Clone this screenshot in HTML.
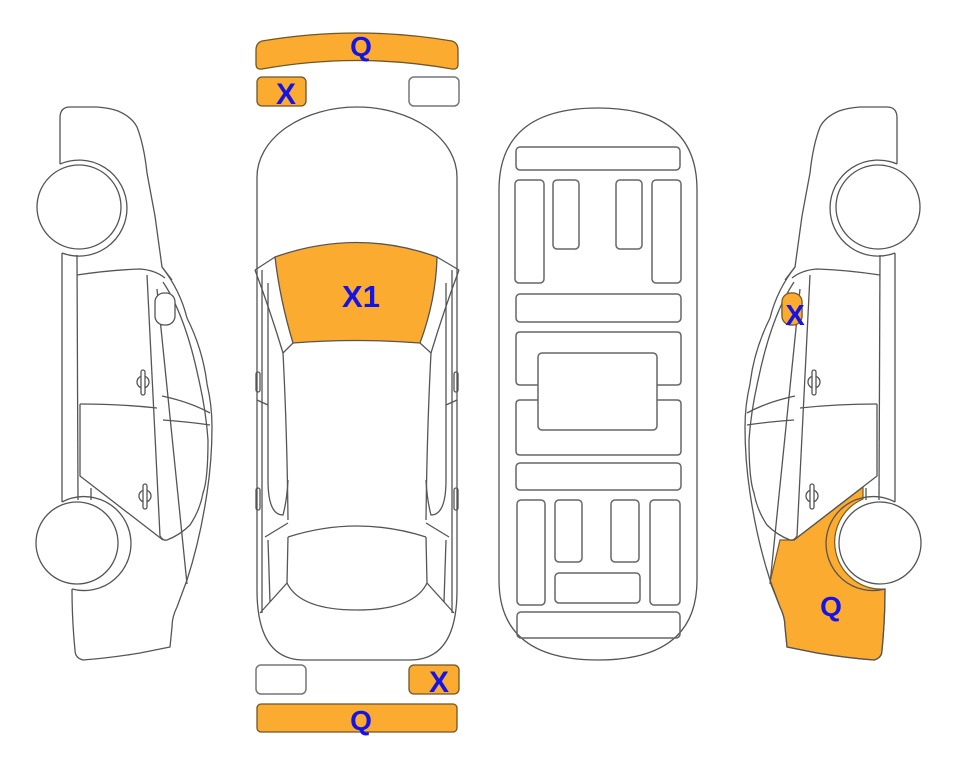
<!DOCTYPE html>
<html><head><meta charset="utf-8"><style>
html,body{margin:0;padding:0;background:#fff;}
svg{display:block;}
text{font-family:"Liberation Sans",Arial,sans-serif;font-weight:bold;fill:#1414e6;text-anchor:middle;}
</style></head><body>
<svg width="963" height="768" viewBox="0 0 963 768" xmlns="http://www.w3.org/2000/svg">
<defs>
<g id="car" fill="none" stroke="#555" stroke-width="1.3" stroke-linejoin="round">
  <path d="M60,164 L60,118 Q60,107 70,107 L97,107 Q110,108 118,111 Q132,117 137,127 Q144,145 147,173 L155,216 L162,267 Q180,290 187,318 Q203,350 207,384 Q212,405 212,427 Q212,460 207,493 Q200,540 187,580 L177,607 Q172,617 172,627 L170,647 Q155,650 140,653 Q110,658 83,660 Q75,658 75,650 Q72,620 72,589"/>
  <path d="M60,164 A48,48 0 1 1 62,253"/>
  <path d="M62,502 A47,47 0 1 1 72,589"/>
  <circle cx="79" cy="207" r="42" fill="#fff"/>
  <circle cx="77" cy="543" r="41" fill="#fff"/>
  <line x1="62" y1="253" x2="62" y2="502"/>
  <line x1="77" y1="255" x2="78" y2="500"/>
  <line x1="91" y1="488" x2="91" y2="500"/>
  <path d="M77,275 Q110,270 140,269 Q155,270 165,278"/>
  <line x1="147" y1="275" x2="160" y2="536"/>
  <line x1="157" y1="289" x2="187" y2="584"/>
  <path d="M162,267 L172,280"/>
  <path d="M163,282 Q185,315 198,376 Q206,410 208,440 Q208,480 203,493 Q200,510 190,525 Q180,535 167,540 Q163,541 160,536"/>
  <rect x="155" y="293" width="20" height="32" rx="9" fill="#fff"/>
  <path d="M80,404 Q120,404 157,408"/>
  <path d="M162,396 Q190,402 210,413"/>
  <path d="M163,420 Q190,422 210,425"/>
  <path d="M80,404 L80,476 L163,540"/>
  <circle cx="143" cy="382" r="6"/>
  <rect x="141" y="370" width="4" height="25" rx="2" fill="#fff"/>
  <circle cx="145" cy="496" r="6"/>
  <rect x="143" y="484" width="4" height="25" rx="2" fill="#fff"/>
</g>
</defs>

<use href="#car"/>

<g transform="translate(957,0) scale(-1,1)">
  <path d="M94,487 L163,540 L177,540 L187,582 L177,607 Q172,617 172,627 L170,647 Q155,650 140,653 Q110,658 83,660 Q75,658 75,650 Q72,620 72,589 A47,47 0 0 0 94,499 Z" fill="#fbab2f" stroke="#7a5a20" stroke-width="1.2"/>
</g>
<g transform="translate(957,0) scale(-1,1)">
  <use href="#car"/>
  <rect x="155" y="293" width="20" height="32" rx="9" fill="#fbab2f" stroke="#7a5a20" stroke-width="1.2"/>
</g>
<text x="795" y="325" font-size="29">X</text>
<text x="831" y="616" font-size="28">Q</text>

<g fill="none" stroke="#555" stroke-width="1.3">
  <path d="M262,41 Q357,25 452,41 Q458,43 458,50 L458,64 Q458,70 452,69 Q357,52 262,69 Q256,70 256,64 L256,50 Q256,43 262,41 Z" fill="#fbab2f" stroke="#6e5628"/>
  <rect x="257" y="77" width="49" height="29" rx="5" fill="#fbab2f" stroke="#6e5628"/>
  <rect x="409" y="77" width="50" height="29" rx="5" fill="#fff" stroke="#777" stroke-width="1.5"/>
  <rect x="256" y="665" width="50" height="29" rx="5" fill="#fff" stroke="#777" stroke-width="1.5"/>
  <rect x="409" y="665" width="50" height="29" rx="5" fill="#fbab2f" stroke="#6e5628"/>
  <rect x="257" y="704" width="200" height="28" rx="4" fill="#fbab2f" stroke="#6e5628"/>

  <path d="M257,177 A100,70 0 0 1 457,177 L457,590 Q457,660 410,660 L304,660 Q257,660 257,590 Z"/>
  <path d="M275,257 Q357,228 437,257 Q436,300 420,343 Q357,338 293,343 Q280,300 275,257 Z" fill="#fbab2f" stroke="#555"/>
  <path d="M255,270 L275,257 M459,270 L437,257"/>
  <path d="M255,270 Q270,310 283,353 L293,343 M459,270 Q444,310 431,353 L420,343"/>
  <path d="M262,270 L262,613"/>
  <path d="M268,283 L268,480 Q268,515 283,515 Q287,500 288,480"/>
  <path d="M283,353 Q287,430 288,520"/>
  <path d="M257,400 L268,405"/>
  <path d="M265,537 L288,523"/>
  <path d="M288,537 L287,583 L260,613"/>
  <path d="M270,602 L268,540"/>
  <path d="M452,270 L452,613"/>
  <path d="M446,283 L446,480 Q446,515 431,515 Q427,500 426,480"/>
  <path d="M431,353 Q427,430 426,520"/>
  <path d="M457,400 L446,405"/>
  <path d="M449,537 L426,523"/>
  <path d="M426,537 L427,583 L454,613"/>
  <path d="M444,602 L446,540"/>
  <path d="M288,537 Q357,515 426,537"/>
  <path d="M287,583 Q300,610 357,610 Q414,610 427,583"/>
  <rect x="256" y="372" width="4" height="20" rx="2"/>
  <rect x="454" y="372" width="4" height="20" rx="2"/>
  <rect x="256" y="488" width="4" height="22" rx="2"/>
  <rect x="454" y="488" width="4" height="22" rx="2"/>
</g>
<text x="361" y="56" font-size="28">Q</text>
<text x="286" y="104" font-size="30">X</text>
<text x="361" y="307" font-size="31">X1</text>
<text x="439" y="692" font-size="30">X</text>
<text x="361" y="730" font-size="28">Q</text>

<g fill="none" stroke="#666" stroke-width="1.5">
  <path d="M499,190 Q499,108 598,108 Q697,108 697,190 L697,580 Q697,660 598,660 Q499,660 499,580 Z" stroke="#555" stroke-width="1.3"/>
  <rect x="516" y="147" width="164" height="23" rx="4"/>
  <rect x="515" y="180" width="29" height="103" rx="4"/>
  <rect x="553" y="180" width="26" height="69" rx="4"/>
  <rect x="616" y="180" width="26" height="69" rx="4"/>
  <rect x="652" y="180" width="29" height="103" rx="4"/>
  <rect x="516" y="294" width="165" height="28" rx="4"/>
  <path d="M538,385 L520,385 Q516,385 516,381 L516,336 Q516,332 520,332 L677,332 Q681,332 681,336 L681,381 Q681,385 677,385 L657,385"/>
  <path d="M538,400 L520,400 Q516,400 516,404 L516,451 Q516,455 520,455 L677,455 Q681,455 681,451 L681,404 Q681,400 677,400 L657,400"/>
  <rect x="538" y="353" width="119" height="77" rx="4"/>
  <rect x="516" y="463" width="165" height="27" rx="4"/>
  <rect x="517" y="500" width="28" height="105" rx="4"/>
  <rect x="555" y="500" width="27" height="62" rx="4"/>
  <rect x="611" y="500" width="28" height="62" rx="4"/>
  <rect x="650" y="500" width="30" height="105" rx="4"/>
  <rect x="555" y="573" width="85" height="30" rx="4"/>
  <rect x="517" y="612" width="163" height="26" rx="4"/>
</g>
</svg>
</body></html>
